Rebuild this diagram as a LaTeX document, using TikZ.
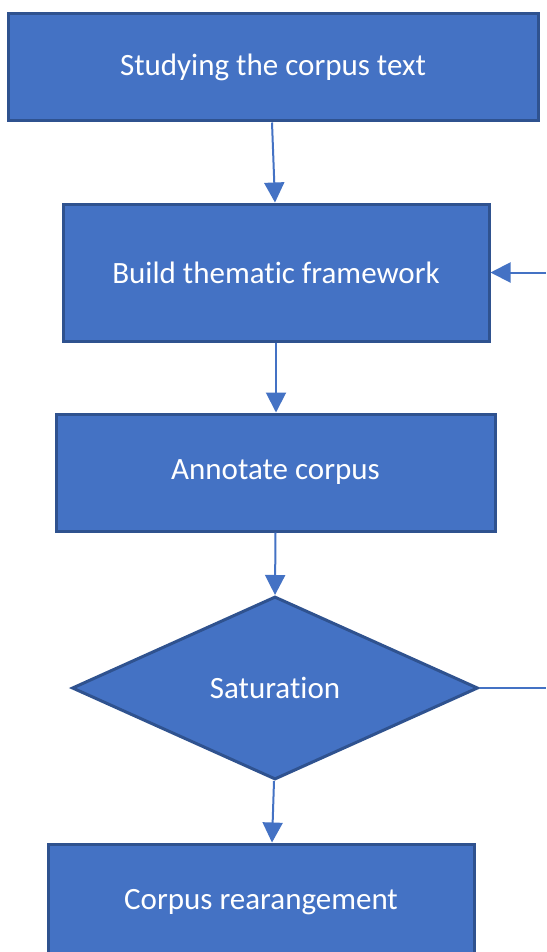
\documentclass[tikz,border=0pt]{standalone}
\usepackage{fontspec}
\setmainfont{Carlito}[Ligatures=NoCommon]
\usepackage{xcolor}
\usetikzlibrary{arrows.meta, shapes.geometric, positioning, calc}
\definecolor{boxblue}{HTML}{4472C4}
\definecolor{edgeblue}{HTML}{2F528F}

\begin{document}
\begin{tikzpicture}[x=1pt, y=-1pt,
        stepbox/.style={rectangle, fill=boxblue, draw=edgeblue, line width=3pt, inner sep=0pt,
                        text=white, font=\fontsize{31}{37}\selectfont},
        decision/.style={diamond, fill=boxblue, draw=edgeblue, line width=3pt, inner sep=0pt,
                        text=white, font=\fontsize{31}{37}\selectfont},
        flow/.style={boxblue, line width=2pt, -{Triangle[length=20pt, width=20pt]}},
        flowline/.style={boxblue, line width=2pt}]
        \useasboundingbox (0, 0) rectangle (546, 952);
        \fill[white] (0, 0) rectangle (546, 952);

        \node[stepbox, minimum width=530pt, minimum height=107pt] (study) at (273, 67.5) {Studying the corpus text};
        \node[stepbox, minimum width=426pt, minimum height=137pt] (build) at (276, 272.5) {Build thematic framework};
        \node[stepbox, minimum width=439pt, minimum height=117pt] (annotate) at (275.5, 472.5) {Annotate corpus};
        \node[decision, minimum width=406pt, minimum height=183pt] (sat) at (275, 688) {Saturation};
        \node[stepbox, minimum width=426pt, minimum height=117pt] (rearrange) at (261, 902.5) {Corpus rearangement};

        \coordinate (loopin) at (546, 272.5);
        \coordinate (loopout) at (546, 688);

        \draw[flow] ([xshift=-1pt]study.south) -- ([xshift=-1pt]build.north);
        \draw[flow] (build.south) -- ([xshift=0.5pt]annotate.north);
        \draw[flow] (annotate.south) -- (sat.north);
        \draw[flow] ([xshift=-1pt]sat.south) -- ([xshift=11pt]rearrange.north);

        \draw[flow] (loopin) -- (build.east);
        \draw[flowline] (sat.east) -- (loopout);

      \end{tikzpicture}
\end{document}
